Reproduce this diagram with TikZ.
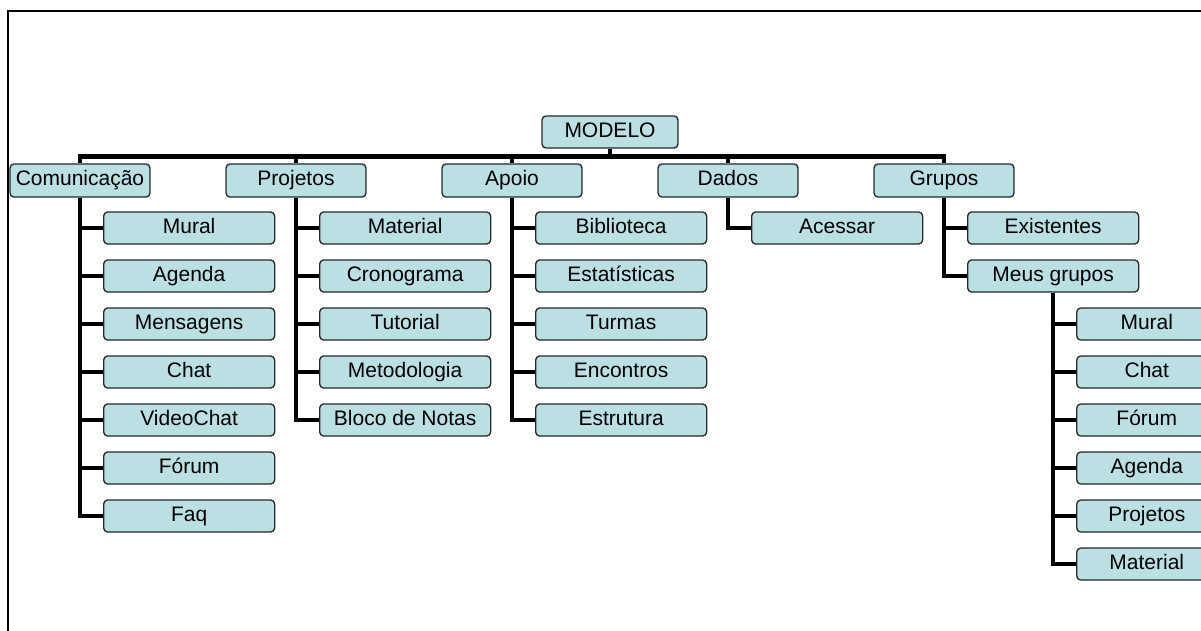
\documentclass[tikz,border=0pt]{standalone}
\usepackage{fontspec}
\setmainfont{Liberation Sans}
\usepackage{xcolor}
\usepackage{tikz}
\usetikzlibrary{trees}
\definecolor{boxfill}{RGB}{187,224,227}

\begin{document}
\begin{tikzpicture}[x=1pt, y=1pt,
  every node/.style={draw=black!85, fill=boxfill, rounded corners=4pt, line width=1.3pt, inner sep=0pt, text height=15pt, text depth=4.5pt, font=\fontsize{21}{24}\selectfont},
  edge from parent/.style={draw, line width=4.6pt},
  level 1/.style={grow via three points={one child at (-530pt,-48.5pt) and two children at (-530pt,-48.5pt) and (-314pt,-48.5pt)}, every child node/.style={minimum width=140pt, minimum height=33pt}, edge from parent path={(\tikzparentnode.south) -- ++(0,-8pt) -| (\tikzchildnode.north)}},
  level 2/.style={grow via three points={one child at (23pt,-47.5pt) and two children at (23pt,-47.5pt) and (23pt,-95.5pt)}, every child node/.style={anchor=west, minimum width=171pt, minimum height=32pt}, edge from parent path={(\tikzparentnode.south) |- (\tikzchildnode.west)}},
  level 3/.style={grow via three points={one child at (23pt,-48pt) and two children at (23pt,-48pt) and (23pt,-96pt)}, every child node/.style={anchor=west, minimum width=140pt, minimum height=32pt}, edge from parent path={(\tikzparentnode.south) |- (\tikzchildnode.west)}}]
  \useasboundingbox (0,0) rectangle (1201,-630);
  \draw[line width=2pt] (8,-640) -- (8,-10.5) -- (1210,-10.5);
  \node[minimum width=136pt, minimum height=32pt] (modelo) at (610,-132) {MODELO}
    child {node (comunicacao) {Comunicação}
      child {node (com-mural) {Mural}}
      child {node (com-agenda) {Agenda}}
      child {node (com-mensagens) {Mensagens}}
      child {node (com-chat) {Chat}}
      child {node (com-videochat) {VideoChat}}
      child {node (com-forum) {Fórum}}
      child {node (com-faq) {Faq}}}
    child {node (projetos) {Projetos}
      child {node (pro-material) {Material}}
      child {node (pro-cronograma) {Cronograma}}
      child {node (pro-tutorial) {Tutorial}}
      child {node (pro-metodologia) {Metodologia}}
      child {node (pro-bloco) {Bloco de Notas}}}
    child {node (apoio) {Apoio}
      child {node (apo-biblioteca) {Biblioteca}}
      child {node (apo-estatisticas) {Estatísticas}}
      child {node (apo-turmas) {Turmas}}
      child {node (apo-encontros) {Encontros}}
      child {node (apo-estrutura) {Estrutura}}}
    child {node (dados) {Dados}
      child {node (dad-acessar) {Acessar}}}
    child {node (grupos) {Grupos}
      child {node (gru-existentes) {Existentes}}
      child {node (gru-meus) {Meus grupos}
        child {node (meu-mural) {Mural}}
        child {node (meu-chat) {Chat}}
        child {node (meu-forum) {Fórum}}
        child {node (meu-agenda) {Agenda}}
        child {node (meu-projetos) {Projetos}}
        child {node (meu-material) {Material}}}};
\end{tikzpicture}
\end{document}
